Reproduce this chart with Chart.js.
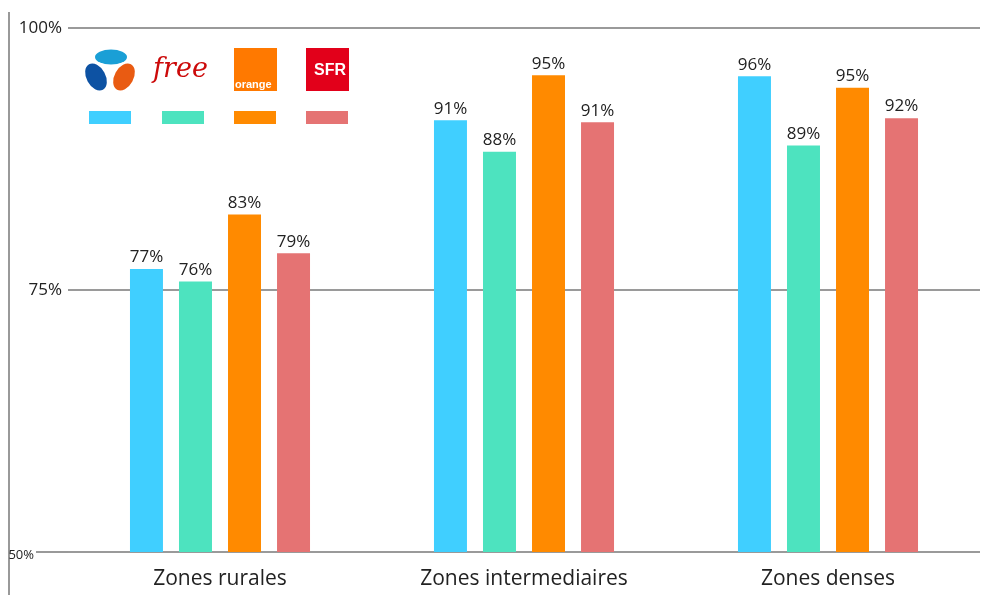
<!DOCTYPE html>
<html>
<head>
<meta charset="utf-8">
<script src="https://cdn.jsdelivr.net/npm/chart.js@4"></script>
<style>
  html, body { margin: 0; padding: 0; background: #fff; }
  #wrap { width: 985px; height: 595px; }
</style>
</head>
<body>
<div id="wrap"><canvas id="chart" width="985" height="595"></canvas></div>
<script>
// Chart data
const categories = ['Zones rurales', 'Zones intermediaires', 'Zones denses'];
const operators = ['Bouygues', 'Free', 'Orange', 'SFR'];
const bouyguesValues = [77.0, 91.2, 95.4];
const freeValues = [75.8, 88.2, 88.8];
const orangeValues = [82.2, 95.5, 94.3];
const sfrValues = [78.5, 91.0, 91.4];
const bouyguesLabels = ['77%', '91%', '96%'];
const freeLabels = ['76%', '88%', '89%'];
const orangeLabels = ['83%', '95%', '95%'];
const sfrLabels = ['79%', '91%', '92%'];
const yTicks = [50, 75, 100];

const colors = ['#40cfff', '#4de3bf', '#ff8a00', '#e57373'];
const FONT = '"Open Sans", "Noto Sans", sans-serif';

const series = [
    { values: bouyguesValues, labels: bouyguesLabels },
    { values: freeValues, labels: freeLabels },
    { values: orangeValues, labels: orangeLabels },
    { values: sfrValues, labels: sfrLabels }
];

// Value labels above each bar
const valueLabels = {
    id: 'valueLabels',
    afterDatasetsDraw(chart) {
        const ctx = chart.ctx;
        ctx.save();
        ctx.fillStyle = '#222';
        ctx.font = '17px ' + FONT;
        ctx.textAlign = 'center';
        ctx.textBaseline = 'bottom';
        chart.data.datasets.forEach((ds, i) => {
            chart.getDatasetMeta(i).data.forEach((bar, j) => {
                ctx.fillText(series[i].labels[j], bar.x, bar.y - 3);
            });
        });
        ctx.restore();
    }
};

// Logos, swatches and the frame line on the left
const decorations = {
    id: 'decorations',
    afterDraw(chart) {
        const ctx = chart.ctx;
        const yScale = chart.scales.y;
        ctx.save();

        // left frame line
        ctx.strokeStyle = '#999';
        ctx.lineWidth = 2;
        ctx.beginPath();
        ctx.moveTo(9, 12);
        ctx.lineTo(9, 595);
        ctx.stroke();

        // extension of the 50% line and its smaller label
        const y50 = yScale.getPixelForValue(yTicks[0]);
        ctx.beginPath();
        ctx.moveTo(36, y50);
        ctx.lineTo(chart.chartArea.left, y50);
        ctx.stroke();
        ctx.fillStyle = '#222';
        ctx.font = '13px ' + FONT;
        ctx.textAlign = 'right';
        ctx.textBaseline = 'middle';
        ctx.fillText(yTicks[0] + '%', 34, y50 + 3);

        // swatches
        const swX = [89, 162, 234, 306];
        swX.forEach((x, i) => {
            ctx.fillStyle = colors[i];
            ctx.fillRect(x, 111, 42, 13);
        });

        // Bouygues logo
        ctx.fillStyle = '#1a9fd6';
        ctx.beginPath();
        ctx.ellipse(111, 57, 16, 7.5, 0, 0, Math.PI * 2);
        ctx.fill();
        ctx.fillStyle = '#0d52a3';
        ctx.beginPath();
        ctx.ellipse(96, 77, 9.5, 14.5, -0.5, 0, Math.PI * 2);
        ctx.fill();
        ctx.fillStyle = '#e95b12';
        ctx.beginPath();
        ctx.ellipse(124, 77, 9.5, 14.5, 0.5, 0, Math.PI * 2);
        ctx.fill();

        // Free logo
        ctx.fillStyle = '#cc0a0a';
        ctx.font = 'italic 27px "DejaVu Serif", serif';
        ctx.textAlign = 'left';
        ctx.textBaseline = 'alphabetic';
        ctx.fillText('free', 153, 77);

        // Orange logo
        ctx.fillStyle = '#ff7900';
        ctx.fillRect(234, 48, 43, 43);
        ctx.fillStyle = '#fff';
        ctx.font = 'bold 11px "Liberation Sans", sans-serif';
        ctx.fillText('orange', 235, 88);

        // SFR logo
        ctx.fillStyle = '#e2001a';
        ctx.fillRect(306, 48, 43, 43);
        ctx.fillStyle = '#fff';
        ctx.font = 'bold 16px "Liberation Sans", sans-serif';
        ctx.textAlign = 'center';
        ctx.textBaseline = 'middle';
        ctx.fillText('SFR', 330, 71);

        ctx.restore();
    }
};

new Chart(document.getElementById('chart'), {
    type: 'bar',
    data: {
        labels: categories,
        datasets: series.map((s, i) => ({
            label: operators[i],
            data: s.values,
            backgroundColor: colors[i],
            categoryPercentage: 0.645,
            barPercentage: 0.673
        }))
    },
    options: {
        responsive: false,
        animation: false,
        layout: { padding: { left: 0, top: 28, right: 5, bottom: 0 } },
        plugins: {
            legend: { display: false },
            tooltip: { enabled: false }
        },
        scales: {
            x: {
                grid: { display: false },
                border: { display: false },
                ticks: {
                    color: '#222',
                    font: { family: FONT, size: 21 },
                    padding: 6
                },
                afterFit(scale) { scale.height = 43; }
            },
            y: {
                min: 50,
                max: 100,
                afterBuildTicks(scale) {
                    scale.ticks = yTicks.map(v => ({ value: v }));
                },
                grid: {
                    color: '#9a9a9a',
                    lineWidth: 2,
                    drawTicks: false
                },
                border: { display: false },
                ticks: {
                    color: '#222',
                    padding: 6,
                    font: { family: FONT, size: 17 },
                    callback: v => v === yTicks[0] ? '' : v + '%'
                },
                afterFit(scale) { scale.width = 68; }
            }
        }
    },
    plugins: [valueLabels, decorations]
});
</script>
</body>
</html>
